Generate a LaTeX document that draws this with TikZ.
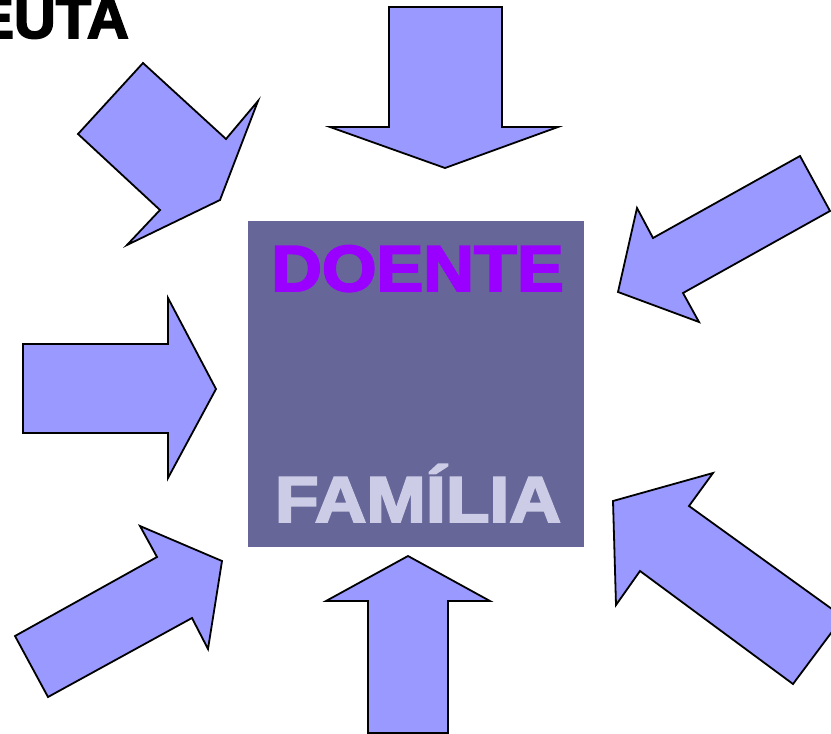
\documentclass[tikz,border=0pt]{standalone}
\usepackage{fontspec}
\setmainfont{Liberation Sans}
\newfontfamily\heavy{Liberation Sans Bold}[FakeBold=3]
\definecolor{arrowfill}{HTML}{9999FF}
\definecolor{boxfill}{HTML}{666699}
\definecolor{doente}{HTML}{9900FF}
\definecolor{familia}{HTML}{CCCCE6}
\tikzset{
  bigarrow/.style={fill=arrowfill, draw=black, line width=1.8pt, line join=miter},
  centerbox/.style={fill=boxfill, draw=none, minimum width=336pt, minimum height=326pt, inner sep=0pt, outer sep=0pt},
  label/.style={inner sep=0pt, anchor=base, font=\heavy\fontsize{65}{70}\selectfont},
}
\begin{document}
\begin{tikzpicture}[x=1pt, y=-1pt]
\useasboundingbox (0,0) rectangle (831,734);
\clip (0,0) rectangle (831,734);
% title (cut off at the left edge, as in the reference)
\node[inner sep=0pt, anchor=base east, font=\heavy\fontsize{58}{60}\selectfont] (title) at (129,38) {EUTA};
% central box
\node[centerbox, anchor=north west] (box) at (248,221) {};
\node[label, text=doente] (doente) at (417.5,291) {\scalebox{1.08}[1]{DOENTE}};
\node[label, text=familia] (familia) at (418,522) {\scalebox{1.1}[1]{FAMÍLIA}};
% arrows
\draw[bigarrow] (143,63) -- (226,139) -- (258,101) -- (220,200) -- (127,245) -- (160,210) -- (78,134) -- cycle;
\draw[bigarrow] (389,7) -- (502,7) -- (502,127) -- (558,127) -- (445,168) -- (330,127) -- (389,127) -- cycle;
\draw[bigarrow] (800,156) -- (830,211) -- (683,293) -- (699,322) -- (618,292) -- (637,208) -- (653,238) -- cycle;
\draw[bigarrow] (23,344) -- (168,344) -- (168,298) -- (216,389) -- (168,478) -- (168,433) -- (23,433) -- cycle;
\draw[bigarrow] (15,636) -- (157,557) -- (140,526) -- (222,561) -- (208,649) -- (192,618) -- (48,697) -- cycle;
\draw[bigarrow] (408,556) -- (490,601) -- (448,601) -- (448,733) -- (368,733) -- (368,601) -- (326,601) -- cycle;
\draw[bigarrow] (613,501) -- (713,473) -- (689,506) -- (843,617) -- (793,684) -- (640,571) -- (616,605) -- cycle;
\end{tikzpicture}
\end{document}
